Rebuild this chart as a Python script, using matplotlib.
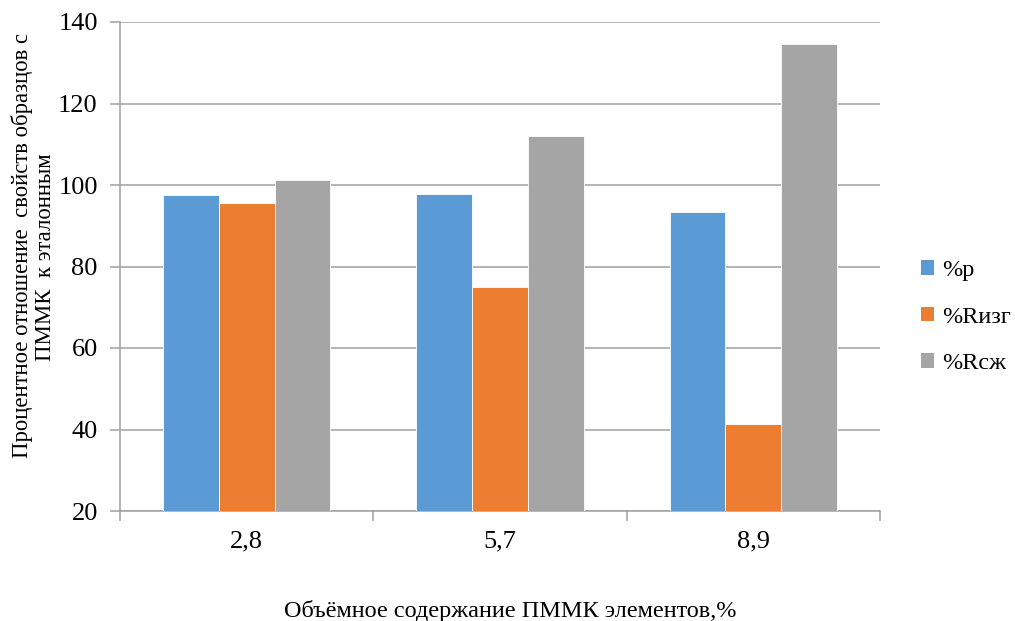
import matplotlib
matplotlib.use("Agg")
import matplotlib.pyplot as plt
import numpy as np
from matplotlib.patches import Patch

categories = ["2,8", "5,7", "8,9"]
series_names = ["%p", "%Rизг", "%Rсж"]
p_vals = [97.5, 97.8, 93.3]
r_izg_vals = [95.5, 75.0, 41.3]
r_szh_vals = [101.2, 112.0, 134.6]
colors = ["#5b9bd5", "#ed7d31", "#a5a5a5"]

plt.rcParams["font.family"] = "serif"
plt.rcParams["font.serif"] = ["Liberation Serif", "Times New Roman", "DejaVu Serif"]

W, H = 1015, 621
fig = plt.figure(figsize=(W / 100, H / 100), dpi=100)
ax = fig.add_axes([120 / W, 1 - 511 / H, 760 / W, 489 / H])

x = np.arange(len(categories))
width = 0.22
base = 20
for i, (vals, c) in enumerate(zip([p_vals, r_izg_vals, r_szh_vals], colors)):
    ax.bar(x + (i - 1) * width, np.array(vals) - base, width, bottom=base,
           color=c, edgecolor="white", linewidth=0.6, zorder=3)

ax.set_xlim(-0.5, 2.5)
ax.set_ylim(20, 140)
ax.set_yticks(np.arange(20, 141, 20))
ax.yaxis.grid(True, color="#a0a0a0", linewidth=1.1, zorder=0)
ax.set_axisbelow(True)

for s in ["top", "right"]:
    ax.spines[s].set_visible(False)
for s in ["left", "bottom"]:
    ax.spines[s].set_color("#a0a0a0")
    ax.spines[s].set_linewidth(1.1)

ax.set_xticks(x)
ax.set_xticklabels(categories)
ax.tick_params(axis="x", length=0, pad=14, labelsize=19)
ax.set_xticks([-0.5, 0.5, 1.5, 2.5], minor=True)
ax.tick_params(axis="x", which="minor", length=7, color="#a0a0a0", width=1.1)
ax.tick_params(axis="y", length=7, color="#a0a0a0", width=1.1, labelsize=19, pad=9)

# two-line vertical axis title
fig.text(22 / W, 1 - 245 / H, "Процентное отношение  свойств образцов с",
         rotation=90, ha="center", va="center", fontsize=16.4)
fig.text(46 / W, 1 - 257 / H, "ПММК  к эталонным",
         rotation=90, ha="center", va="center", fontsize=16.4)

fig.text(510 / W, 1 - 617 / H, "Объёмное содержание ПММК элементов,%",
         ha="center", va="baseline", fontsize=17.5)

handles = [Patch(facecolor=c, edgecolor="none") for c in colors]
fig.legend(handles, series_names, loc="center left",
           bbox_to_anchor=(921 / W, 1 - 317 / H), frameon=False,
           borderpad=0, borderaxespad=0,
           fontsize=17.5, handlelength=0.55, handleheight=0.55,
           handletextpad=0.3, labelspacing=1.05)

fig.savefig("out.png", dpi=100)
